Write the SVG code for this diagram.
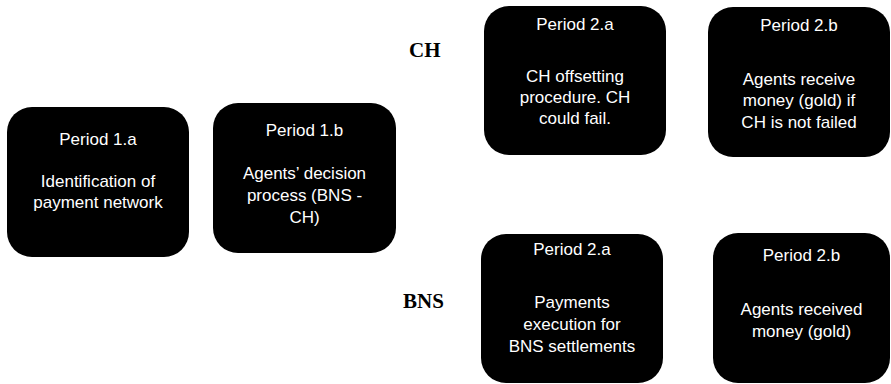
<svg xmlns="http://www.w3.org/2000/svg" width="891" height="384" viewBox="0 0 891 384">
<style>
.box{fill:#000;}
.t{font-family:"Liberation Sans",Arial,sans-serif;font-size:17px;fill:#fff;text-anchor:middle;}
.lbl{font-family:"Liberation Serif","Times New Roman",serif;font-size:21px;font-weight:bold;fill:#000;}
</style>
<rect width="891" height="384" fill="#fff"/>
<g id="p1a">
<rect class="box" x="7" y="107" width="182" height="150" rx="25"/>
<text class="t" x="98" y="145">Period 1.a</text>
<text class="t" x="98" y="187">Identification of</text>
<text class="t" x="98" y="208">payment network</text>
</g>
<g id="p1b">
<rect class="box" x="213" y="103" width="183" height="150" rx="25"/>
<text class="t" x="304.5" y="136">Period 1.b</text>
<text class="t" x="304.5" y="179">Agents’ decision</text>
<text class="t" x="304.5" y="201">process (BNS -</text>
<text class="t" x="304.5" y="223">CH)</text>
</g>
<g id="ch-label"><text class="lbl" x="409" y="57">CH</text></g>
<g id="bns-label"><text class="lbl" x="403" y="308">BNS</text></g>
<g id="ch2a">
<rect class="box" x="484" y="6" width="182" height="149" rx="25"/>
<text class="t" x="575" y="30">Period 2.a</text>
<text class="t" x="575" y="82">CH offsetting</text>
<text class="t" x="575" y="103">procedure. CH</text>
<text class="t" x="575" y="124">could fail.</text>
</g>
<g id="ch2b">
<rect class="box" x="708" y="7" width="182" height="150" rx="25"/>
<text class="t" x="799" y="31">Period 2.b</text>
<text class="t" x="799" y="85">Agents receive</text>
<text class="t" x="799" y="106">money (gold) if</text>
<text class="t" x="799" y="128">CH is not failed</text>
</g>
<g id="bns2a">
<rect class="box" x="481" y="234" width="182" height="149" rx="25"/>
<text class="t" x="572" y="255">Period 2.a</text>
<text class="t" x="572" y="308">Payments</text>
<text class="t" x="572" y="330">execution for</text>
<text class="t" x="572" y="352">BNS settlements</text>
</g>
<g id="bns2b">
<rect class="box" x="713" y="233" width="177" height="150" rx="25"/>
<text class="t" x="801.5" y="261">Period 2.b</text>
<text class="t" x="801.5" y="315">Agents received</text>
<text class="t" x="801.5" y="337">money (gold)</text>
</g>
<g id="connectors"></g>
</svg>
